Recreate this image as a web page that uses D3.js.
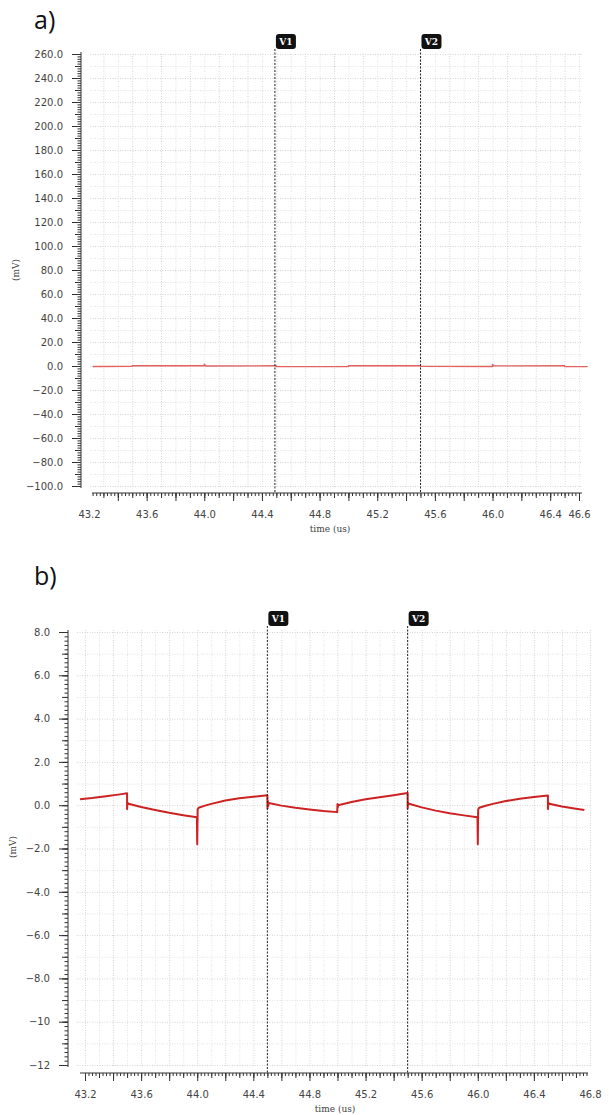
<!DOCTYPE html>
<html>
<head>
<meta charset="utf-8">
<script src="https://cdn.jsdelivr.net/npm/d3@7"></script>
<style>
  body { margin: 0; background: #fff; }
  svg { display: block; }
</style>
</head>
<body>
<div id="chart"></div>
<script>
// panel a trace (mV)
const timeA = [43.225, 43.3, 43.5, 43.5, 44.0, 44.0, 44.01, 44.5, 44.5, 45.0, 45.0, 45.5, 45.5, 46.0, 46.0, 46.01, 46.5, 46.5, 46.66];
const mvA   = [-0.4, -0.4, -0.3, 0.3, 0.2, 1.5, 0.0, 0.2, -0.4, -0.5, 0.2, 0.3, -0.3, -0.4, 1.2, 0.1, 0.3, -0.4, -0.5];

// panel b trace (mV)
const timeB = [43.165, 43.25, 43.35, 43.45, 43.5, 43.5, 43.503, 43.51, 43.6, 43.7, 43.8, 43.9, 43.998,
               44.0, 44.003, 44.01, 44.05, 44.1, 44.2, 44.3, 44.4, 44.5,
               44.501, 44.503, 44.505, 44.51, 44.6, 44.7, 44.8, 44.9, 44.998,
               45.0, 45.002, 45.005, 45.1, 45.2, 45.3, 45.4, 45.5,
               45.5, 45.503, 45.51, 45.6, 45.7, 45.8, 45.9, 45.998,
               46.0, 46.003, 46.01, 46.05, 46.1, 46.2, 46.3, 46.4, 46.5,
               46.5, 46.503, 46.51, 46.6, 46.7, 46.76];
const mvB   = [0.28, 0.33, 0.41, 0.50, 0.55, -0.18, 0.12, 0.07, -0.08, -0.22, -0.35, -0.46, -0.56,
               -1.8, -0.2, -0.12, -0.03, 0.06, 0.22, 0.32, 0.39, 0.46,
               -0.15, 0.2, -0.05, 0.1, -0.02, -0.12, -0.2, -0.27, -0.32,
               0.05, -0.1, 0.0, 0.15, 0.27, 0.37, 0.46, 0.56,
               -0.15, 0.12, 0.07, -0.1, -0.25, -0.37, -0.47, -0.56,
               -1.8, -0.2, -0.12, -0.04, 0.05, 0.19, 0.30, 0.38, 0.45,
               -0.18, 0.12, 0.07, -0.06, -0.16, -0.22];

const cursorNames = ["V1", "V2"];
const cursorsA = [44.49, 45.5];
const cursorsB = [44.5, 45.5];

const xLabelsA = [43.2, 43.6, 44.0, 44.4, 44.8, 45.2, 45.6, 46.0, 46.4, 46.6];
const xLabelsB = [43.2, 43.6, 44.0, 44.4, 44.8, 45.2, 45.6, 46.0, 46.4, 46.8];
const yLabelsA = [260, 240, 220, 200, 180, 160, 140, 120, 100, 80, 60, 40, 20, 0, -20, -40, -60, -80, -100];
const yLabelsB = [8, 6, 4, 2, 0, -2, -4, -6, -8, -10, -12];

const svg = d3.select("#chart")
    .append("svg")
    .attr("width", 609)
    .attr("height", 1115)
    .style("font-family", "'DejaVu Sans', sans-serif");

function drawPanel(p) {
    const g = svg.append("g");

    const x = d3.scaleLinear().domain(p.xDomain).range(p.xRange);
    const y = d3.scaleLinear().domain(p.yDomain).range(p.yRange);

    // dotted grid
    const gx = d3.range(p.xDomain[0], p.xDomain[1] + 0.3, 0.1)
        .filter(v => x(v) >= p.grid[0] - 0.5 && x(v) <= p.grid[1] + 0.5);
    g.append("g")
        .attr("transform", `translate(0, ${p.grid[3]})`)
        .call(d3.axisBottom(x).tickValues(gx).tickSize(-(p.grid[3] - p.grid[2])).tickFormat(""))
        .call(a => a.select(".domain").remove())
        .selectAll("line")
        .attr("stroke", (d, i) => i % 2 ? "#e2e2e2" : "#d4d4d4")
        .attr("stroke-dasharray", "1,1.5");

    const gy = d3.range(p.yDomain[0], p.yDomain[1] + p.yGrid / 2, p.yGrid);
    g.append("g")
        .attr("transform", `translate(${p.grid[0]}, 0)`)
        .call(d3.axisLeft(y).tickValues(gy).tickSize(-(p.grid[1] - p.grid[0])).tickFormat(""))
        .call(a => a.select(".domain").remove())
        .selectAll("line")
        .attr("stroke", (d, i) => i % 2 ? "#e2e2e2" : "#d4d4d4")
        .attr("stroke-dasharray", "1,1.5");

    // y axis
    const ya = g.append("g").attr("transform", `translate(${p.yAxisX}, 0)`);
    ya.append("g")
        .call(d3.axisLeft(y).tickValues(d3.range(p.yDomain[0], p.yDomain[1] + 1e-6, p.yMinor)).tickSize(3.5).tickFormat(""))
        .call(a => a.select(".domain").remove());
    ya.append("g")
        .call(d3.axisLeft(y).tickValues(d3.range(p.yDomain[0], p.yDomain[1] + 1e-6, p.yGrid)).tickSize(6).tickFormat(""))
        .call(a => a.select(".domain").remove());
    ya.append("g")
        .call(d3.axisLeft(y).tickValues(p.yLabels).tickSize(9).tickPadding(9).tickFormat(p.yFormat))
        .call(a => a.select(".domain").remove())
        .selectAll("text")
        .attr("font-size", 10)
        .attr("font-family", "'DejaVu Sans', sans-serif")
        .attr("fill", "#444");
    ya.append("line")
        .attr("y1", p.yAxisExt[0]).attr("y2", p.yAxisExt[1])
        .attr("stroke", "#333");
    ya.selectAll(".tick line").attr("stroke", "#333");

    // x axis
    const xa = g.append("g").attr("transform", `translate(0, ${p.xAxisY})`);
    const xLo = x.invert(p.xAxisExt[0]), xHi = x.invert(p.xAxisExt[1]);
    xa.append("g")
        .call(d3.axisBottom(x).tickValues(d3.range(p.xDomain[0], xHi, 0.025).filter(v => v >= xLo - 1e-6)).tickSize(3).tickFormat(""))
        .call(a => a.select(".domain").remove());
    xa.append("g")
        .call(d3.axisBottom(x).tickValues(d3.range(p.xDomain[0], xHi, 0.1).filter(v => v >= xLo - 1e-6)).tickSize(5).tickFormat(""))
        .call(a => a.select(".domain").remove());
    xa.append("g")
        .call(d3.axisBottom(x).tickValues(d3.range(p.xDomain[0], xHi + 0.01, 0.2).filter(v => v >= xLo - 1e-6)).tickSize(8).tickFormat(""))
        .call(a => a.select(".domain").remove());
    xa.append("g")
        .call(d3.axisBottom(x).tickValues(p.xLabels).tickSize(0).tickPadding(18).tickFormat(d3.format(".1f")))
        .call(a => a.select(".domain").remove())
        .selectAll("text")
        .attr("font-size", 10)
        .attr("font-family", "'DejaVu Sans', sans-serif")
        .attr("fill", "#444");
    xa.append("line")
        .attr("x1", p.xAxisExt[0]).attr("x2", p.xAxisExt[1])
        .attr("stroke", "#333");
    xa.selectAll(".tick line").attr("stroke", "#333");

    // axis titles
    g.append("text")
        .attr("x", p.xTitle[0]).attr("y", p.xTitle[1])
        .attr("text-anchor", "middle")
        .attr("font-family", "'DejaVu Serif', serif")
        .attr("font-size", 9)
        .attr("fill", "#444")
        .text("time (us)");
    g.append("text")
        .attr("transform", `translate(${p.yTitle[0]}, ${p.yTitle[1]}) rotate(-90)`)
        .attr("text-anchor", "middle")
        .attr("font-family", "'DejaVu Serif', serif")
        .attr("font-size", 9)
        .attr("fill", "#444")
        .text("(mV)");

    // trace
    const line = d3.line()
        .x((d, i) => x(p.times[i]))
        .y(d => y(d));
    g.append("path")
        .datum(p.values)
        .attr("d", line)
        .attr("fill", "none")
        .attr("stroke", p.color)
        .attr("stroke-width", p.lineWidth)
        .attr("stroke-linejoin", "round");

    // cursors
    p.cursors.forEach(function(c, i) {
        g.append("line")
            .attr("x1", x(c)).attr("x2", x(c))
            .attr("y1", p.cursorY[0]).attr("y2", p.cursorY[1])
            .attr("stroke", "#222")
            .attr("stroke-width", 1)
            .attr("stroke-dasharray", "2,1.5");
        g.append("rect")
            .attr("x", x(c) + 1).attr("y", p.cursorY[0] - 15)
            .attr("width", 20).attr("height", 15)
            .attr("rx", 3)
            .attr("fill", "#111");
        g.append("text")
            .attr("x", x(c) + 11).attr("y", p.cursorY[0] - 4)
            .attr("text-anchor", "middle")
            .attr("font-family", "'DejaVu Serif', serif")
            .attr("font-weight", "bold")
            .attr("font-size", 9)
            .attr("fill", "#fff")
            .text(cursorNames[i]);
    });

    g.append("text")
        .attr("x", 34).attr("y", p.tagY)
        .attr("font-family", "'Open Sans', sans-serif")
        .attr("font-size", 25)
        .attr("fill", "#111")
        .text(p.tag);
}

drawPanel({
    tag: "a)", tagY: 29,
    xDomain: [43.2, 46.6], xRange: [89, 579],
    yDomain: [-100, 260], yRange: [486, 54],
    grid: [90, 582, 53, 487],
    yGrid: 10, yMinor: 2,
    yAxisX: 81, yAxisExt: [52, 488],
    xAxisY: 493, xAxisExt: [92, 582],
    xLabels: xLabelsA, yLabels: yLabelsA,
    yFormat: d3.format(".1f"),
    xTitle: [330, 532], yTitle: [19, 270],
    times: timeA, values: mvA,
    color: "#e26262", lineWidth: 1.4,
    cursors: cursorsA, cursorY: [49, 493]
});

drawPanel({
    tag: "b)", tagY: 585,
    xDomain: [43.2, 46.8], xRange: [85, 590],
    yDomain: [-12, 8], yRange: [1065, 632],
    grid: [77, 590, 630, 1066],
    yGrid: 1, yMinor: 0.2,
    yAxisX: 68, yAxisExt: [630, 1067],
    xAxisY: 1073, xAxisExt: [80, 588],
    xLabels: xLabelsB, yLabels: yLabelsB,
    yFormat: d => Math.abs(d) >= 10 ? d3.format("d")(d) : d3.format(".1f")(d),
    xTitle: [335, 1112], yTitle: [16, 847],
    times: timeB, values: mvB,
    color: "#cc2222", lineWidth: 2,
    cursors: cursorsB, cursorY: [626, 1073]
});
</script>
</body>
</html>
